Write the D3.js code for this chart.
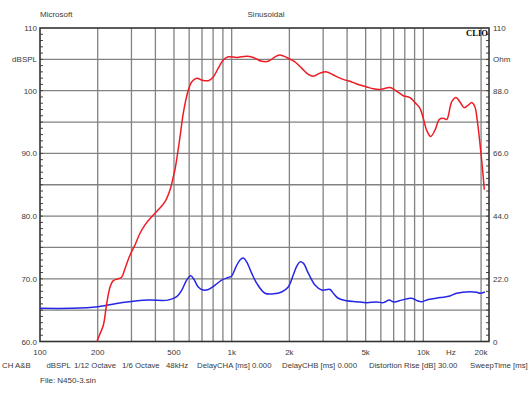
<!DOCTYPE html>
<html>
<head>
<meta charset="utf-8">
<script src="https://cdn.jsdelivr.net/npm/d3@7"></script>
<style>
  body { margin: 0; background: #fff; }
  svg text { font-family: "Liberation Sans", Arial, sans-serif; fill: #3a3a3a; }
</style>
</head>
<body>
<div id="chart"></div>
<script>
// frequency response (red, dBSPL)
var redFreq = [198, 206, 214, 223, 232, 241, 256, 267, 278, 295, 313, 333, 353, 383, 414, 449, 477, 496, 506,
    538, 559, 594, 618, 657, 698, 755, 802, 851, 904, 960, 1062, 1197, 1296, 1434, 1552, 1683, 1786, 1936,
    2138, 2318, 2510, 2666, 2888, 3131, 3389, 3822, 4227, 4668, 5060, 5480, 5937, 6695, 7112, 7855, 8511,
    9040, 9600, 9990, 10400, 10920, 11495, 12100, 12700, 13230, 14050, 14790, 15530, 16290, 17150, 17870,
    18580, 19100, 19730, 20370, 20790];
var redDb = [60.0, 61.3, 62.6, 66.1, 68.7, 69.7, 70.0, 70.3, 71.7, 73.8, 75.4, 77.3, 78.6, 79.9, 81.0, 82.3, 84.2, 86.3, 87.4,
    92.7, 96.4, 100.1, 101.4, 102.0, 101.7, 101.6, 102.2, 103.6, 104.9, 105.4, 105.3, 105.5, 105.3, 104.7, 104.7, 105.4, 105.7, 105.3,
    104.6, 103.6, 102.6, 102.3, 102.8, 103.0, 102.5, 101.8, 101.4, 100.9, 100.6, 100.3, 100.2, 100.5, 100.1, 99.2, 98.9,
    98.1, 97.2, 95.6, 93.7, 92.7, 93.7, 95.4, 95.6, 95.4, 98.2, 98.9, 98.2, 97.3, 97.7, 98.1,
    97.4, 95.3, 91.6, 87.4, 84.2];

// second channel (blue)
var blueFreq = [100, 146, 201, 277, 366, 465, 517, 549, 582, 611, 636, 669, 711, 755, 819, 887, 960, 1000, 1053,
    1105, 1150, 1197, 1271, 1350, 1491, 1648, 1823, 1973, 2095, 2183, 2272, 2363, 2509, 2720, 2948, 3257,
    3389, 3598, 3981, 4487, 5060, 5706, 6180, 6637, 7024, 7707, 8690, 9300, 9795, 10607, 12210, 13760,
    14920, 17500, 18970, 19730, 20960];
var blueDb = [65.3, 65.3, 65.55, 66.25, 66.6, 66.6, 67.15, 68.2, 69.8, 70.5, 69.9, 68.7, 68.2, 68.3, 69.0, 69.8, 70.2, 70.45, 71.9,
    73.0, 73.3, 72.7, 70.9, 69.3, 67.7, 67.6, 67.9, 68.7, 70.6, 72.0, 72.7, 72.5, 70.9, 69.0, 68.2, 68.3,
    67.7, 66.9, 66.5, 66.35, 66.2, 66.3, 66.2, 66.6, 66.3, 66.6, 66.9, 66.5, 66.35, 66.7, 67.0, 67.25,
    67.7, 67.95, 67.85, 67.7, 67.9];

// axes
var gridFreqs = [200, 300, 400, 500, 600, 700, 800, 900, 1000, 2000, 3000, 4000, 5000, 6000, 7000, 8000, 9000, 10000, 20000];
var xTickVals = [100, 200, 500, 1000, 2000, 5000, 10000, 20000];
var xTickLabels = ["100", "200", "500", "1k", "2k", "5k", "10k", "20k"];
var leftTickVals = [110, 105, 100, 90, 80, 70, 60];
var leftTickLabels = ["110", "dBSPL", "100", "90.0", "80.0", "70.0", "60.0"];
var rightTickVals = [110, 99, 88, 66, 44, 22, 0];
var rightTickLabels = ["110", "Ohm", "88.0", "66.0", "44.0", "22.0", "0"];

// footer info
var infoTexts = ["CH A&B", "dBSPL", "1/12 Octave", "1/6 Octave", "48kHz", "DelayCHA [ms] 0.000",
    "DelayCHB [ms] 0.000", "Distortion Rise [dB] 30.00", "SweepTime [ms]"];
var infoX = [2, 46.5, 74, 122, 166, 197, 282, 369, 470];

var W = 530, H = 398;
var mLeft = 40, mRight = 489, mTop = 28, mBottom = 341.5;

var svg = d3.select("#chart").append("svg")
    .attr("width", W)
    .attr("height", H);

var x = d3.scaleLog().domain([100, 22000]).range([mLeft, mRight]);
var y = d3.scaleLinear().domain([60, 110]).range([mBottom, mTop]);
var yR = d3.scaleLinear().domain([0, 110]).range([mBottom, mTop]);

// grid
svg.append("g").selectAll("line")
    .data(gridFreqs)
    .enter().append("line")
    .attr("x1", d => x(d)).attr("x2", d => x(d))
    .attr("y1", mTop).attr("y2", mBottom)
    .attr("stroke", "#828282").attr("stroke-width", 1.3);

svg.append("g").selectAll("line")
    .data(d3.range(65, 110, 5))
    .enter().append("line")
    .attr("x1", mLeft).attr("x2", mRight)
    .attr("y1", d => y(d)).attr("y2", d => y(d))
    .attr("stroke", "#828282").attr("stroke-width", 1.3);

// minor ticks, inward
svg.append("g").selectAll("line")
    .data(d3.range(61, 110, 1))
    .enter().append("line")
    .attr("x1", mLeft).attr("x2", mLeft + 3)
    .attr("y1", d => y(d)).attr("y2", d => y(d))
    .attr("stroke", "#444").attr("stroke-width", 1);

svg.append("g").selectAll("line")
    .data(d3.range(1, 50).map(i => i * 2.2))
    .enter().append("line")
    .attr("x1", mRight - 3).attr("x2", mRight)
    .attr("y1", d => yR(d)).attr("y2", d => yR(d))
    .attr("stroke", "#444").attr("stroke-width", 1);

// frame
svg.append("rect")
    .attr("x", mLeft).attr("y", mTop)
    .attr("width", mRight - mLeft).attr("height", mBottom - mTop)
    .attr("fill", "none").attr("stroke", "#333").attr("stroke-width", 1.6);

// curves
var redData = redFreq.map((f, i) => ({ f: f, v: redDb[i] }));
var blueData = blueFreq.map((f, i) => ({ f: f, v: blueDb[i] }));

var line = d3.line()
    .x(d => x(d.f))
    .y(d => y(d.v))
    .curve(d3.curveCatmullRom.alpha(0.5));

svg.append("path")
    .datum(blueData)
    .attr("fill", "none")
    .attr("stroke", "#2626e6")
    .attr("stroke-width", 1.5)
    .attr("d", line);

svg.append("path")
    .datum(redData)
    .attr("fill", "none")
    .attr("stroke", "#ee1c24")
    .attr("stroke-width", 1.5)
    .attr("d", line);

// tick labels
var fs = "8px";

svg.append("g").selectAll("text")
    .data(leftTickVals)
    .enter().append("text")
    .attr("x", mLeft - 3)
    .attr("y", d => y(d) + 3)
    .attr("text-anchor", "end")
    .style("font-size", fs)
    .text((d, i) => leftTickLabels[i]);

svg.append("g").selectAll("text")
    .data(rightTickVals)
    .enter().append("text")
    .attr("x", mRight + 4)
    .attr("y", d => yR(d) + 3)
    .attr("text-anchor", "start")
    .style("font-size", fs)
    .text((d, i) => rightTickLabels[i]);

svg.append("g").selectAll("text")
    .data(xTickVals)
    .enter().append("text")
    .attr("x", d => x(d))
    .attr("y", 354.5)
    .attr("text-anchor", "middle")
    .style("font-size", fs)
    .text((d, i) => xTickLabels[i]);

svg.append("text")
    .attr("x", x(13900))
    .attr("y", 354.5)
    .attr("text-anchor", "middle")
    .style("font-size", fs)
    .text("Hz");

// titles
svg.append("text")
    .attr("x", mLeft).attr("y", 17)
    .style("font-size", fs)
    .text("Microsoft");

svg.append("text")
    .attr("x", 266).attr("y", 17)
    .attr("text-anchor", "middle")
    .style("font-size", fs)
    .text("Sinusoidal");

svg.append("text")
    .attr("x", mRight - 1).attr("y", 35.5)
    .attr("text-anchor", "end")
    .style("font-family", "'Liberation Serif', 'Times New Roman', serif")
    .style("font-weight", "bold")
    .style("font-size", "8.6px")
    .style("fill", "#000")
    .text("CLIO");

// footer
svg.append("g").selectAll("text")
    .data(infoTexts)
    .enter().append("text")
    .attr("x", (d, i) => infoX[i])
    .attr("y", 367.5)
    .style("font-size", "7.8px")
    .text(d => d);

svg.append("text")
    .attr("x", mLeft).attr("y", 382.5)
    .style("font-size", fs)
    .text("File: N450-3.sin");
</script>
</body>
</html>
